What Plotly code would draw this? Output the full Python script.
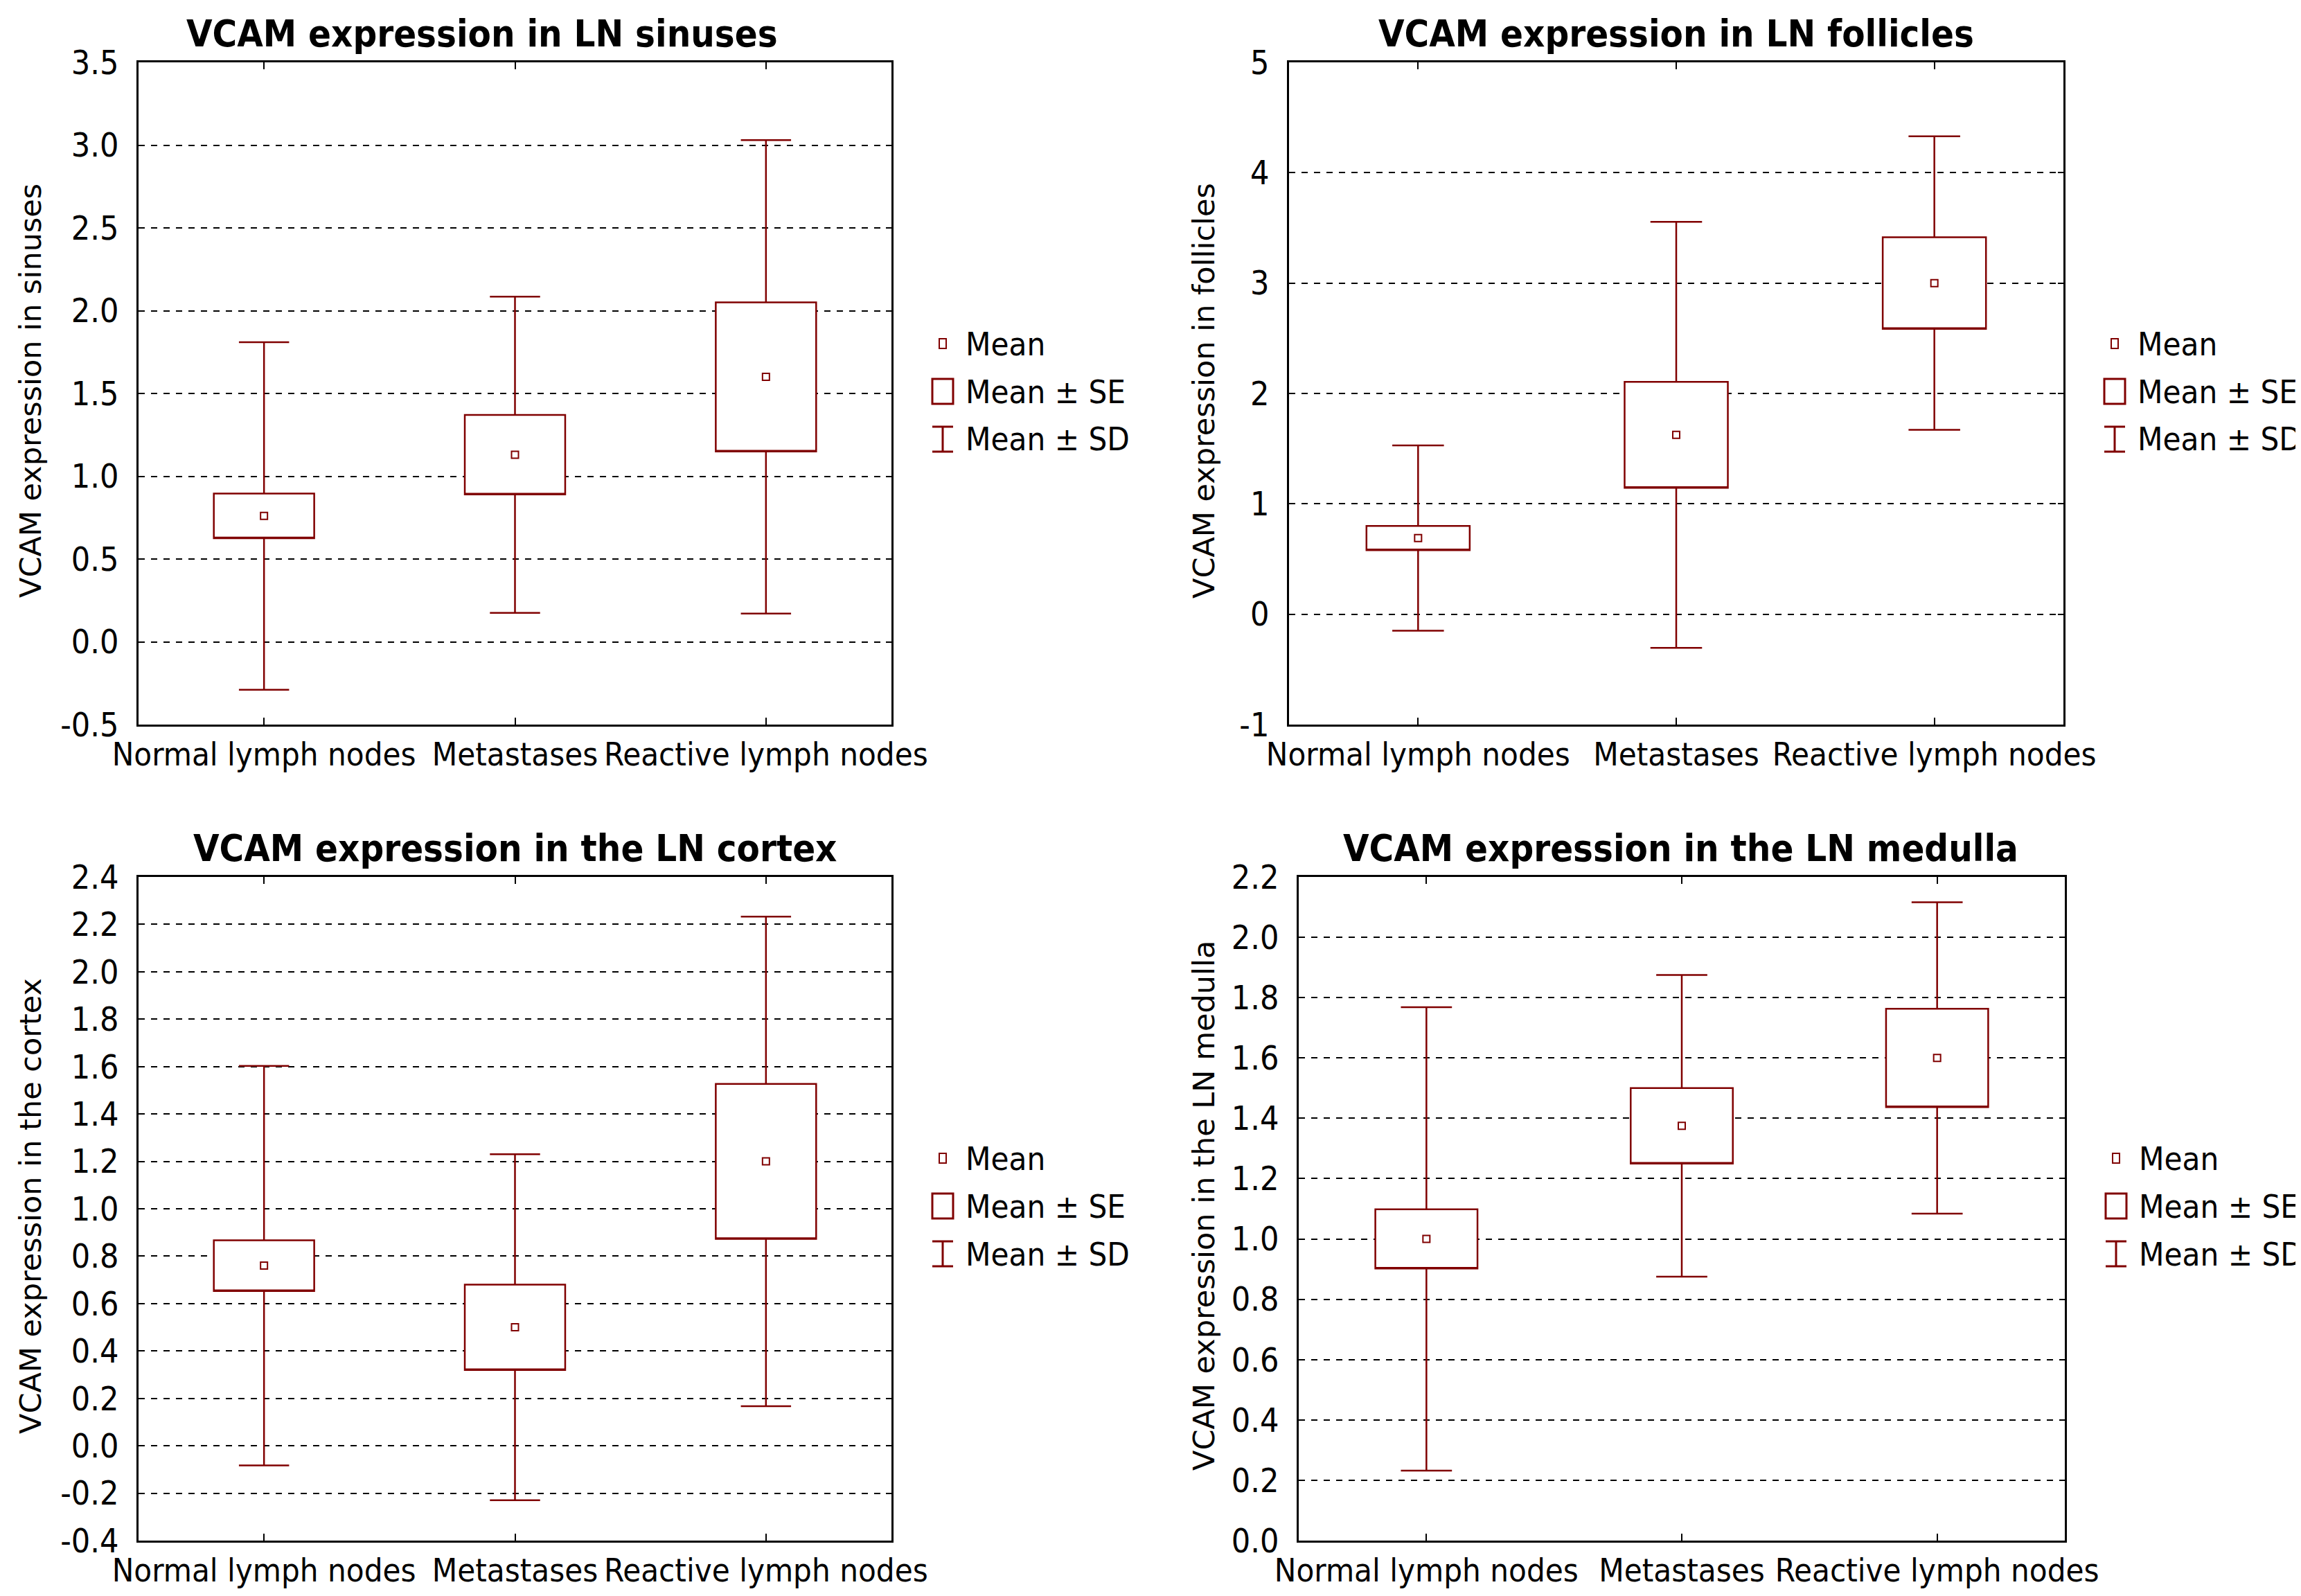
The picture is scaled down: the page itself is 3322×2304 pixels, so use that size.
import plotly.graph_objects as go

W, H = 3322, 2304
RED = "#800000"

GROUPS = ["Normal lymph nodes", "Metastases", "Reactive lymph nodes"]

# mean, standard error, standard deviation per group
SINUS_MEAN = [0.76, 1.13, 1.60]
SINUS_SE = [0.135, 0.24, 0.45]
SINUS_SD = [1.05, 0.955, 1.43]

FOLLICLE_MEAN = [0.69, 1.625, 3.0]
FOLLICLE_SE = [0.11, 0.48, 0.415]
FOLLICLE_SD = [0.84, 1.93, 1.33]

CORTEX_MEAN = [0.76, 0.50, 1.20]
CORTEX_SE = [0.107, 0.18, 0.327]
CORTEX_SD = [0.843, 0.73, 1.033]

MEDULLA_MEAN = [1.0, 1.375, 1.60]
MEDULLA_SE = [0.098, 0.125, 0.163]
MEDULLA_SD = [0.768, 0.50, 0.516]

SINUS_TICKS = [-0.5, 0.0, 0.5, 1.0, 1.5, 2.0, 2.5, 3.0, 3.5]
SINUS_LABELS = ["-0.5", "0.0", "0.5", "1.0", "1.5", "2.0", "2.5", "3.0", "3.5"]
FOLLICLE_TICKS = [-1, 0, 1, 2, 3, 4, 5]
FOLLICLE_LABELS = ["-1", "0", "1", "2", "3", "4", "5"]
CORTEX_TICKS = [-0.4, -0.2, 0.0, 0.2, 0.4, 0.6, 0.8, 1.0, 1.2, 1.4, 1.6, 1.8, 2.0, 2.2, 2.4]
CORTEX_LABELS = ["-0.4", "-0.2", "0.0", "0.2", "0.4", "0.6", "0.8", "1.0",
                 "1.2", "1.4", "1.6", "1.8", "2.0", "2.2", "2.4"]
MEDULLA_TICKS = [0.0, 0.2, 0.4, 0.6, 0.8, 1.0, 1.2, 1.4, 1.6, 1.8, 2.0, 2.2]
MEDULLA_LABELS = ["0.0", "0.2", "0.4", "0.6", "0.8", "1.0", "1.2", "1.4",
                  "1.6", "1.8", "2.0", "2.2"]

LEGEND_LABELS = ["Mean", "Mean \u00b1 SE", "Mean \u00b1 SD"]

COND = "DejaVu Sans Condensed, Liberation Sans Narrow, DejaVu Sans, sans-serif"
WIDE = "DejaVu Sans, Verdana, sans-serif"

panels = [
    dict(title="VCAM expression in LN sinuses", ytitle="VCAM expression in sinuses",
         mean=SINUS_MEAN, se=SINUS_SE, sd=SINUS_SD, ticks=SINUS_TICKS, labels=SINUS_LABELS,
         px=(192, 1279), py=(82, 1038), title_x=688, ytitle_x=36),
    dict(title="VCAM expression in LN follicles", ytitle="VCAM expression in follicles",
         mean=FOLLICLE_MEAN, se=FOLLICLE_SE, sd=FOLLICLE_SD, ticks=FOLLICLE_TICKS, labels=FOLLICLE_LABELS,
         px=(1853, 2971), py=(82, 1038), title_x=2412, ytitle_x=1730),
    dict(title="VCAM expression in the LN cortex", ytitle="VCAM expression in the cortex",
         mean=CORTEX_MEAN, se=CORTEX_SE, sd=CORTEX_SD, ticks=CORTEX_TICKS, labels=CORTEX_LABELS,
         px=(192, 1279), py=(1258, 2216), title_x=735, ytitle_x=36),
    dict(title="VCAM expression in the LN medulla", ytitle="VCAM expression in the LN medulla",
         mean=MEDULLA_MEAN, se=MEDULLA_SE, sd=MEDULLA_SD, ticks=MEDULLA_TICKS, labels=MEDULLA_LABELS,
         px=(1867, 2973), py=(1258, 2216), title_x=2418, ytitle_x=1730),
]

fig = go.Figure()
annotations = []
shapes = []
layout = {}

for i, p in enumerate(panels, start=1):
    xa = "x" if i == 1 else f"x{i}"
    ya = "y" if i == 1 else f"y{i}"
    mean, se, sd = p["mean"], p["se"], p["sd"]

    fig.add_trace(go.Box(
        x=GROUPS,
        q1=[m - s for m, s in zip(mean, se)],
        median=[m - s for m, s in zip(mean, se)],
        q3=[m + s for m, s in zip(mean, se)],
        lowerfence=[m - d for m, d in zip(mean, sd)],
        upperfence=[m + d for m, d in zip(mean, sd)],
        boxpoints=False, width=0.4, whiskerwidth=0.5,
        line=dict(color=RED, width=2.5), fillcolor="white",
        xaxis=xa, yaxis=ya, showlegend=False, hoverinfo="skip",
    ))
    fig.add_trace(go.Scatter(
        x=GROUPS, y=mean, mode="markers",
        marker=dict(symbol="square-open", size=10, color=RED, line=dict(width=2, color=RED)),
        xaxis=xa, yaxis=ya, showlegend=False,
    ))

    x0, x1 = p["px"]
    y0, y1 = p["py"]
    layout["xaxis" if i == 1 else f"xaxis{i}"] = dict(
        domain=[x0 / W, x1 / W], anchor=ya, type="category", range=[-0.5, 2.5],
        automargin=False,
        showline=True, linecolor="black", linewidth=3, mirror="ticks",
        ticks="inside", ticklen=10, tickwidth=2, tickcolor="black",
        showgrid=False, tickfont=dict(family=COND, size=47, color="black"),
    )
    layout["yaxis" if i == 1 else f"yaxis{i}"] = dict(
        domain=[1 - y1 / H, 1 - y0 / H], anchor=xa,
        range=[p["ticks"][0], p["ticks"][-1]], automargin=False,
        tickmode="array", tickvals=p["ticks"], ticktext=p["labels"],
        showline=True, linecolor="black", linewidth=3, mirror="ticks",
        ticks="inside", ticklen=8, tickwidth=2, tickcolor="black", ticklabelstandoff=16,
        showgrid=True, gridcolor="black", gridwidth=2, griddash="dash",
        zeroline=False, tickfont=dict(family=COND, size=48, color="black"),
    )

    annotations.append(dict(
        text=f"<b>{p['title']}</b>", x=p["title_x"] / W, y=1 - (y0 - 42) / H,
        xref="paper", yref="paper", xanchor="center", yanchor="middle", showarrow=False,
        font=dict(family=COND, size=54, color="black"),
    ))
    annotations.append(dict(
        text=p["ytitle"], x=p["ytitle_x"] / W, y=1 - ((y0 + y1) / 2 - 4) / H, textangle=-90,
        xref="paper", yref="paper", xanchor="center", yanchor="middle", showarrow=False,
        font=dict(family=WIDE, size=43, color="black"),
    ))

    # legend: symbol column + label column to the right of each panel
    sx = x1 + 74
    rows = [y0 + 406 + 69 * k for k in range(3)]
    for ly, lab in zip(rows, LEGEND_LABELS):
        annotations.append(dict(
            text=lab, x=(x1 + 105) / W, y=1 - ly / H, xref="paper", yref="paper",
            xanchor="left", yanchor="middle", showarrow=False,
            font=dict(family=COND, size=47, color="black"),
        ))
    r0, r1, r2 = rows
    shapes.append(dict(type="rect", xref="paper", yref="paper",
                       x0=(sx - 5) / W, x1=(sx + 5) / W, y0=1 - (r0 - 7) / H, y1=1 - (r0 + 7) / H,
                       line=dict(color=RED, width=2)))
    shapes.append(dict(type="rect", xref="paper", yref="paper",
                       x0=(sx - 15) / W, x1=(sx + 15) / W, y0=1 - (r1 - 18) / H, y1=1 - (r1 + 18) / H,
                       line=dict(color=RED, width=3)))
    ix0, ix1 = (sx - 15) / W, (sx + 15) / W
    it, ib = 1 - (r2 - 18) / H, 1 - (r2 + 18) / H
    shapes.append(dict(type="path", xref="paper", yref="paper",
                       path=f"M{ix0},{it} L{ix1},{it} M{sx / W},{it} L{sx / W},{ib} M{ix0},{ib} L{ix1},{ib}",
                       line=dict(color=RED, width=3)))

fig.update_layout(
    width=W, height=H, margin=dict(l=0, r=0, t=0, b=0),
    paper_bgcolor="white", plot_bgcolor="white",
    annotations=annotations, shapes=shapes, **layout,
)

fig.write_html("out.html")
